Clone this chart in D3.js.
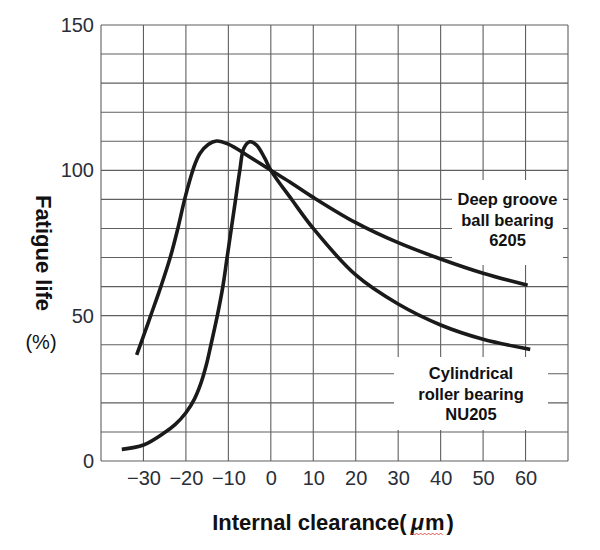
<!DOCTYPE html>
<html>
<head>
<meta charset="utf-8">
<script src="https://cdn.jsdelivr.net/npm/d3@7"></script>
<style>
  html, body { margin: 0; padding: 0; background: #fff; }
  svg { display: block; }
</style>
</head>
<body>
<svg id="chart" width="600" height="550"></svg>
<script>
// ---- Data ----
const xTicks = [-30, -20, -10, 0, 10, 20, 30, 40, 50, 60];
const yTicks = [0, 50, 100, 150];

// Deep groove ball bearing 6205: [clearance µm, fatigue life %]
const deepGrooveX = [-31.6, -29.5, -28.3, -25.9, -23.7, -21.9, -20.3, -19.0, -17.9, -16.7, -14.75, -12.8, -10, -5.7, 0, 5, 10, 20, 30, 40, 50, 60.5];
const deepGrooveY = [36.5, 45, 50, 60, 70, 80, 90, 97, 102, 105.8, 108.9, 110.1, 109, 105.3, 100, 95.5, 90.7, 82, 75.1, 69.5, 64.6, 60.5];

// Cylindrical roller bearing NU205
const rollerX = [-35.1, -30, -25, -22.5, -20, -18, -16.5, -15.2, -14.1, -12.6, -11.3, -10.3, -9.3, -8.3, -7.3, -6.35, -4.94, -3.37, -1.4, 0, 5, 10, 20, 30, 40, 50, 61.1];
const rollerY = [4.0, 5.5, 9.8, 12.6, 16.6, 21.3, 26.6, 33, 40, 50, 60, 70, 80, 90, 100, 107.6, 109.8, 108.7, 104.1, 100, 89.8, 80, 64, 54, 46.8, 41.9, 38.4];

const labelDeep = ["Deep groove", "ball bearing", "6205"];
const labelRoller = ["Cylindrical", "roller bearing", "NU205"];

// ---- Layout ----
const svg = d3.select("#chart");
const x = d3.scaleLinear().domain([-40, 70]).range([101, 568]);
const y = d3.scaleLinear().domain([0, 150]).range([461, 25]);

const gridColor = "#5f5f5f";
const grid = svg.append("g");
d3.range(-40, 71, 10).forEach(v => {
  grid.append("line")
    .attr("x1", x(v)).attr("x2", x(v))
    .attr("y1", y(0)).attr("y2", y(150))
    .attr("stroke", gridColor).attr("stroke-width", 1.1);
});
d3.range(0, 151, 10).forEach(v => {
  grid.append("line")
    .attr("x1", x(-40)).attr("x2", x(70))
    .attr("y1", y(v)).attr("y2", y(v))
    .attr("stroke", gridColor).attr("stroke-width", 1.1);
});

// ---- Axes ----
const fmt = d => (d < 0 ? "\u2212" + Math.abs(d) : String(d));
const xAxis = svg.append("g")
  .attr("transform", `translate(0,${y(0)})`)
  .call(d3.axisBottom(x).tickValues(xTicks).tickSize(0).tickPadding(10).tickFormat(fmt));
const yAxis = svg.append("g")
  .attr("transform", `translate(${x(-40)},0)`)
  .call(d3.axisLeft(y).tickValues(yTicks).tickSize(0).tickPadding(7).tickFormat(fmt));
[xAxis, yAxis].forEach(a => {
  a.select(".domain").remove();
  a.selectAll("text")
    .attr("font-family", "'Liberation Sans', Arial, sans-serif")
    .attr("font-size", 20)
    .attr("fill", "#2a2e38");
});

// ---- Label boxes (white, covering the grid) ----
function labelBox(lines, cx, top, w, h, firstBaseline) {
  svg.append("rect")
    .attr("x", cx - w / 2).attr("y", top)
    .attr("width", w).attr("height", h)
    .attr("fill", "#fff");
  const t = svg.append("text")
    .attr("font-family", "'Liberation Sans', Arial, sans-serif")
    .attr("font-weight", "bold")
    .attr("font-size", 16.5)
    .attr("fill", "#111")
    .attr("text-anchor", "middle");
  lines.forEach((s, i) => {
    t.append("tspan").attr("x", cx).attr("y", firstBaseline + i * 20.5).text(s);
  });
}
labelBox(labelDeep, 507.5, 180, 111, 85, 205);
labelBox(labelRoller, 471, 357, 154, 73, 379);

// ---- Curves ----
const line = d3.line()
  .x(d => x(d[0])).y(d => y(d[1]))
  .curve(d3.curveCatmullRom.alpha(0.5));
const deep = d3.zip(deepGrooveX, deepGrooveY);
const roller = d3.zip(rollerX, rollerY);
[deep, roller].forEach(data => {
  svg.append("path")
    .datum(data)
    .attr("d", line)
    .attr("fill", "none")
    .attr("stroke", "#1a1a1a")
    .attr("stroke-width", 3.6)
    .attr("stroke-linecap", "butt")
    .attr("stroke-linejoin", "round");
});

// ---- Axis titles ----
svg.append("text")
  .attr("transform", `translate(36,253) rotate(90)`)
  .attr("text-anchor", "middle")
  .attr("font-family", "'Liberation Sans', Arial, sans-serif")
  .attr("font-weight", "bold")
  .attr("font-size", 22)
  .attr("fill", "#111")
  .text("Fatigue life");

svg.append("text")
  .attr("x", 41).attr("y", 349)
  .attr("text-anchor", "middle")
  .attr("font-family", "'Liberation Sans', Arial, sans-serif")
  .attr("font-size", 20)
  .attr("fill", "#111")
  .text("(%)");

const xt = svg.append("text")
  .attr("x", 333).attr("y", 530)
  .attr("text-anchor", "middle")
  .attr("font-family", "'Liberation Sans', Arial, sans-serif")
  .attr("font-weight", "bold")
  .attr("font-size", 22)
  .attr("fill", "#111");
xt.append("tspan").text("Internal clearance(");
xt.append("tspan").attr("dx", 4).attr("font-style", "italic").text("\u03BC");
xt.append("tspan").attr("dx", 1).text("m");
xt.append("tspan").attr("dx", 2).text(")");

// spell-check style wavy underline under "µm", as in the reference
const node = xt.node();
const full = node.textContent;
const start = full.indexOf("\u03BC");
const sx = node.getStartPositionOfChar(start).x;
const ex = node.getEndPositionOfChar(start + 1).x;
const pts = d3.range(sx, ex, 2).map((px, i) => [px, 534 + (i % 2 ? -1 : 1)]);
svg.append("path")
  .attr("d", d3.line()(pts))
  .attr("fill", "none")
  .attr("stroke", "#e03030")
  .attr("stroke-width", 0.8);
</script>
</body>
</html>
